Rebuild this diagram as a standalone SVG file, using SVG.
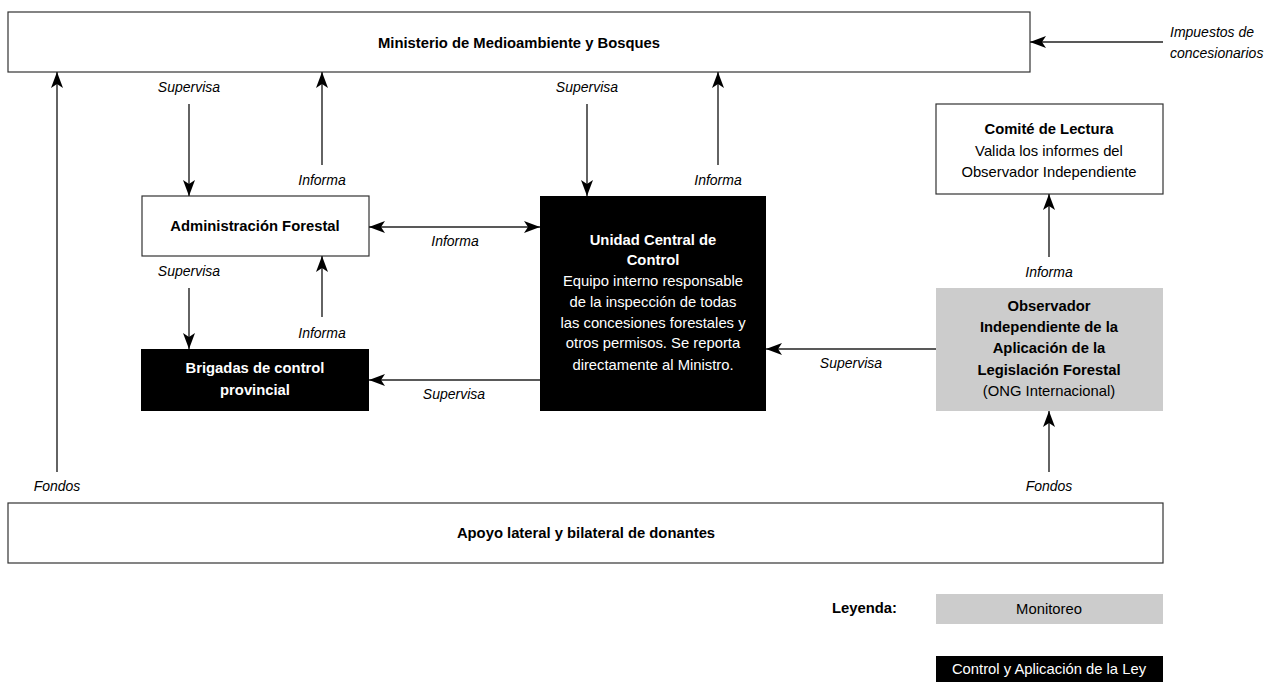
<svg xmlns="http://www.w3.org/2000/svg" width="1268" height="682" viewBox="0 0 1268 682">
<defs>
<marker id="ah" viewBox="0 0 16 12" refX="16" refY="6" markerWidth="16" markerHeight="12" markerUnits="userSpaceOnUse" orient="auto-start-reverse">
<path d="M0,0 L16,6 L0,12 L4,6 z" fill="#000"/>
</marker>
<style>
text{font-family:"Liberation Sans",Arial,sans-serif;font-size:14.8px;text-anchor:middle;fill:#000}
.b{font-weight:bold}
.i{font-style:italic;font-size:14px}
.w{fill:#fff}
.box{fill:#fff;stroke:#333;stroke-width:1.2}
.blk{fill:#000}
.gry{fill:#ccc}
.c line{stroke:#222;stroke-width:1.4;fill:none;marker-end:url(#ah)}
</style>
</defs>
<g id="ministerio"><rect class="box" x="8" y="12" width="1022" height="60"/><text class="b" x="519" y="48">Ministerio de Medioambiente y Bosques</text></g>
<g id="admin"><rect class="box" x="142" y="196" width="227" height="60"/><text class="b" x="255" y="231">Administración Forestal</text></g>
<g id="brigadas"><rect class="blk" x="141" y="349" width="228" height="62"/><text class="b w" x="255" y="373">Brigadas de control</text><text class="b w" x="255" y="395">provincial</text></g>
<g id="unidad"><rect class="blk" x="540" y="196" width="226" height="215"/>
<text class="b w" x="653" y="245">Unidad Central de</text>
<text class="b w" x="653" y="265">Control</text>
<text class="w" x="653" y="286">Equipo interno responsable</text>
<text class="w" x="653" y="307">de la inspección de todas</text>
<text class="w" x="653" y="328">las concesiones forestales y</text>
<text class="w" x="653" y="348">otros permisos. Se reporta</text>
<text class="w" x="653" y="370">directamente al Ministro.</text></g>
<g id="comite"><rect class="box" x="936" y="104" width="227" height="90"/>
<text class="b" x="1049" y="134">Comité de Lectura</text>
<text x="1049" y="156">Valida los informes del</text>
<text x="1049" y="177">Observador Independiente</text></g>
<g id="observador"><rect class="gry" x="936" y="288" width="227" height="123"/>
<text class="b" x="1049" y="311">Observador</text>
<text class="b" x="1049" y="332">Independiente de la</text>
<text class="b" x="1049" y="353">Aplicación de la</text>
<text class="b" x="1049" y="375">Legislación Forestal</text>
<text x="1049" y="396">(ONG Internacional)</text></g>
<g id="apoyo"><rect class="box" x="8" y="503" width="1155" height="60"/><text class="b" x="586" y="538">Apoyo lateral y bilateral de donantes</text></g>
<g id="leyenda">
<text class="b" x="897" y="613" style="text-anchor:end">Leyenda:</text>
<rect class="gry" x="936" y="594" width="227" height="30"/><text x="1049" y="614">Monitoreo</text>
<rect class="blk" x="936" y="656" width="227" height="26"/><text class="w" x="1049" y="674">Control y Aplicación de la Ley</text>
</g>
<g id="connectors" class="c">
<line x1="1163" y1="42" x2="1030" y2="42"/>
<line x1="57" y1="472" x2="57" y2="72"/>
<line x1="189" y1="104" x2="189" y2="196"/>
<line x1="322" y1="165" x2="322" y2="72"/>
<line x1="587" y1="104" x2="587" y2="196"/>
<line x1="718" y1="165" x2="718" y2="72"/>
<line x1="369" y1="227" x2="540" y2="227" style="marker-start:url(#ah)"/>
<line x1="189" y1="288" x2="189" y2="349"/>
<line x1="322" y1="317" x2="322" y2="256"/>
<line x1="540" y1="380" x2="369" y2="380"/>
<line x1="936" y1="349" x2="766" y2="349"/>
<line x1="1049" y1="257" x2="1049" y2="194"/>
<line x1="1049" y1="472" x2="1049" y2="411"/>
</g>
<g id="labels">
<text class="i" x="1170" y="37" style="text-anchor:start">Impuestos de</text>
<text class="i" x="1170" y="58" style="text-anchor:start">concesionarios</text>
<text class="i" x="189" y="92">Supervisa</text>
<text class="i" x="322" y="185">Informa</text>
<text class="i" x="587" y="92">Supervisa</text>
<text class="i" x="718" y="185">Informa</text>
<text class="i" x="455" y="246">Informa</text>
<text class="i" x="189" y="276">Supervisa</text>
<text class="i" x="322" y="338">Informa</text>
<text class="i" x="454" y="399">Supervisa</text>
<text class="i" x="851" y="368">Supervisa</text>
<text class="i" x="1049" y="277">Informa</text>
<text class="i" x="57" y="491">Fondos</text>
<text class="i" x="1049" y="491">Fondos</text>
</g>
</svg>
